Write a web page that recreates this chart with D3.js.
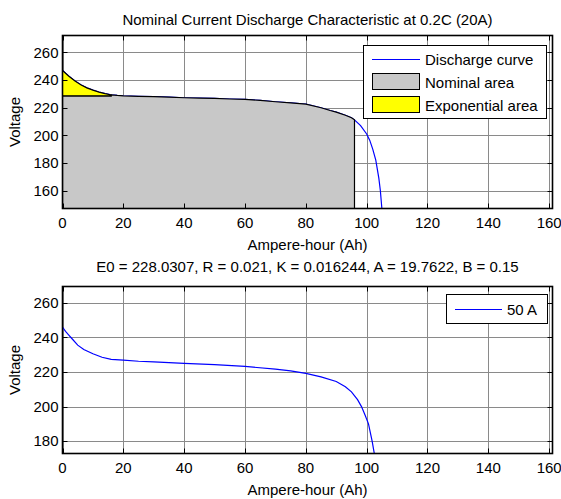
<!DOCTYPE html>
<html>
<head>
<meta charset="utf-8">
<script src="https://cdn.jsdelivr.net/npm/d3@7"></script>
<style>
  body { margin: 0; background: #fff; }
  text { font-family: "Liberation Sans", Arial, sans-serif; font-size: 15px; fill: #000; }
</style>
</head>
<body>
<svg id="chart" width="561" height="499"></svg>
<script>
// discharge at nominal current (top panel)
const ahTop = [0, 2, 4, 6, 8, 10, 12, 14, 16, 18, 20, 25, 30, 35, 40, 45, 50, 55, 60, 65, 70, 75, 80, 85, 88, 90, 93, 95, 96, 98, 100, 101, 102, 103, 104, 104.5, 105];
const vTop = [247, 243, 239.5, 236.6, 234.4, 232.7, 231.3, 230.2, 229.3, 228.9, 228.6, 228.2, 228, 227.6, 227.2, 227, 226.7, 226.3, 226, 225.3, 224.3, 223.5, 222.6, 220, 218, 216.8, 214.5, 212.7, 211.2, 207, 201, 196.5, 190, 182, 169, 160, 147];
const nominalV = 228.6;
const expEnd = 16;
const nomEnd = 96;

// discharge at 50 A (bottom panel)
const ah50 = [0, 1, 2, 3, 5, 7, 10, 13, 16, 20, 25, 30, 40, 50, 60, 70, 75, 80, 85, 90, 93, 95, 97, 98.3, 99.5, 100.6, 101.8, 102.6];
const v50 = [246, 243.5, 241.5, 239.5, 235.5, 233, 230.5, 228.5, 227.3, 226.8, 226.2, 225.8, 225, 224.2, 223.2, 221.6, 220.6, 219.2, 217.2, 214.5, 211.5, 208.5, 204, 200, 195, 190, 180, 172];

const xTicks = [0, 20, 40, 60, 80, 100, 120, 140, 160];
const yTicksTop = [160, 180, 200, 220, 240, 260];
const yTicksBottom = [180, 200, 220, 240, 260];

const titleTop = 'Nominal Current Discharge Characteristic at 0.2C (20A)';
const titleBottom = 'E0 = 228.0307, R = 0.021, K = 0.016244, A = 19.7622, B = 0.15';
const xLabel = 'Ampere-hour (Ah)';
const yLabel = 'Voltage';

const svg = d3.select('#chart');
const left = 62.5, right = 552.5;

const x = d3.scaleLinear().domain([0, 161.1]).range([left, right]);

function panel(id, top, bottom, yDomain, yTicks) {
    const y = d3.scaleLinear().domain(yDomain).range([bottom, top]);
    const g = svg.append('g');

    g.append('clipPath').attr('id', id)
        .append('rect')
        .attr('x', left).attr('y', top)
        .attr('width', right - left).attr('height', bottom - top);

    // grid
    g.append('g').selectAll('line').data(xTicks).enter().append('line')
        .attr('x1', d => Math.round(x(d)) + 0.5).attr('x2', d => Math.round(x(d)) + 0.5)
        .attr('y1', top).attr('y2', bottom)
        .attr('stroke', '#8a8a8a').attr('stroke-width', 1);
    g.append('g').selectAll('line').data(yTicks).enter().append('line')
        .attr('x1', left).attr('x2', right)
        .attr('y1', d => Math.round(y(d)) + 0.5).attr('y2', d => Math.round(y(d)) + 0.5)
        .attr('stroke', '#8a8a8a').attr('stroke-width', 1);

    const plot = g.append('g').attr('clip-path', 'url(#' + id + ')');
    return { g: g, plot: plot, y: y, top: top, bottom: bottom, yTicks: yTicks };
}

function frame(p) {
    const g = p.g, y = p.y, top = p.top, bottom = p.bottom;
    const tl = 5;
    // ticks on all four sides, pointing in
    xTicks.forEach(function (d) {
        const xx = Math.round(x(d)) + 0.5;
        g.append('line').attr('x1', xx).attr('x2', xx).attr('y1', bottom).attr('y2', bottom - tl).attr('stroke', '#000');
        g.append('line').attr('x1', xx).attr('x2', xx).attr('y1', top).attr('y2', top + tl).attr('stroke', '#000');
        g.append('text').attr('x', x(d)).attr('y', bottom + 19)
            .attr('text-anchor', 'middle').text(d);
    });
    p.yTicks.forEach(function (d) {
        const yy = Math.round(y(d)) + 0.5;
        g.append('line').attr('x1', left).attr('x2', left + tl).attr('y1', yy).attr('y2', yy).attr('stroke', '#000');
        g.append('line').attr('x1', right).attr('x2', right - tl).attr('y1', yy).attr('y2', yy).attr('stroke', '#000');
        g.append('text').attr('x', left - 4).attr('y', y(d)).attr('dy', '0.35em')
            .attr('text-anchor', 'end').text(d);
    });
    g.append('rect')
        .attr('x', left).attr('y', top)
        .attr('width', right - left).attr('height', bottom - top)
        .attr('fill', 'none').attr('stroke', '#000').attr('stroke-width', 1.6);

    g.append('text')
        .attr('transform', 'translate(20,' + ((top + bottom) / 2) + ') rotate(-90)')
        .attr('text-anchor', 'middle').text(yLabel);
}

// ---------- top panel ----------
const p1 = panel('clipTop', 35.5, 208.5, [147, 272.3], yTicksTop);
const yT = p1.y;
const pts = ahTop.map((d, i) => [d, vTop[i]]);
const floor = yT.domain()[0];

const line1 = d3.line().x(d => x(d[0])).y(d => yT(d[1]));

p1.plot.append('path')
    .datum(pts)
    .attr('d', line1)
    .attr('fill', 'none')
    .attr('stroke', '#0000ff')
    .attr('stroke-width', 1.2);

// nominal area
const nomPts = [[0, floor - 10], [0, nominalV], [expEnd, nominalV]]
    .concat(pts.filter(d => d[0] >= expEnd && d[0] <= nomEnd))
    .concat([[nomEnd, floor - 10]]);
p1.plot.append('path')
    .datum(nomPts)
    .attr('d', line1.curve(d3.curveLinear))
    .attr('fill', '#c8c8c8')
    .attr('stroke', '#000')
    .attr('stroke-width', 1.2);

// exponential area
const expPts = pts.filter(d => d[0] <= expEnd).concat([[expEnd, nominalV], [0, nominalV]]);
p1.plot.append('path')
    .datum(expPts)
    .attr('d', line1)
    .attr('fill', '#ffff00')
    .attr('stroke', '#000')
    .attr('stroke-width', 1.2);

frame(p1);

svg.append('text').attr('x', (left + right) / 2).attr('y', 25)
    .attr('text-anchor', 'middle').text(titleTop);
svg.append('text').attr('x', (left + right) / 2).attr('y', 250)
    .attr('text-anchor', 'middle').text(xLabel);

// legend top
const lg = svg.append('g');
lg.append('rect').attr('x', 363.5).attr('y', 45.5).attr('width', 183).attr('height', 73)
    .attr('fill', '#fff').attr('stroke', '#000');
lg.append('line').attr('x1', 372).attr('x2', 420).attr('y1', 59.5).attr('y2', 59.5)
    .attr('stroke', '#0000ff');
lg.append('rect').attr('x', 372.5).attr('y', 73.5).attr('width', 47).attr('height', 16)
    .attr('fill', '#c8c8c8').attr('stroke', '#000');
lg.append('rect').attr('x', 372.5).attr('y', 96.5).attr('width', 47).attr('height', 16)
    .attr('fill', '#ffff00').attr('stroke', '#000');
lg.append('text').attr('x', 425).attr('y', 65).text('Discharge curve');
lg.append('text').attr('x', 425).attr('y', 88).text('Nominal area');
lg.append('text').attr('x', 425).attr('y', 111).text('Exponential area');

// ---------- bottom panel ----------
const p2 = panel('clipBottom', 286.5, 453.5, [172.9, 269.4], yTicksBottom);
const yB = p2.y;
const pts50 = ah50.map((d, i) => [d, v50[i]]);

p2.plot.append('path')
    .datum(pts50)
    .attr('d', d3.line().x(d => x(d[0])).y(d => yB(d[1])))
    .attr('fill', 'none')
    .attr('stroke', '#0000ff')
    .attr('stroke-width', 1.2);

frame(p2);

svg.append('text').attr('x', (left + right) / 2).attr('y', 272)
    .attr('text-anchor', 'middle').text(titleBottom);
svg.append('text').attr('x', (left + right) / 2).attr('y', 495)
    .attr('text-anchor', 'middle').text(xLabel);

// legend bottom
const lg2 = svg.append('g');
lg2.append('rect').attr('x', 446.5).attr('y', 294.5).attr('width', 101).attr('height', 29)
    .attr('fill', '#fff').attr('stroke', '#000');
lg2.append('line').attr('x1', 455).attr('x2', 502).attr('y1', 309.5).attr('y2', 309.5)
    .attr('stroke', '#0000ff');
lg2.append('text').attr('x', 507).attr('y', 314.5).text('50 A');
</script>
</body>
</html>
